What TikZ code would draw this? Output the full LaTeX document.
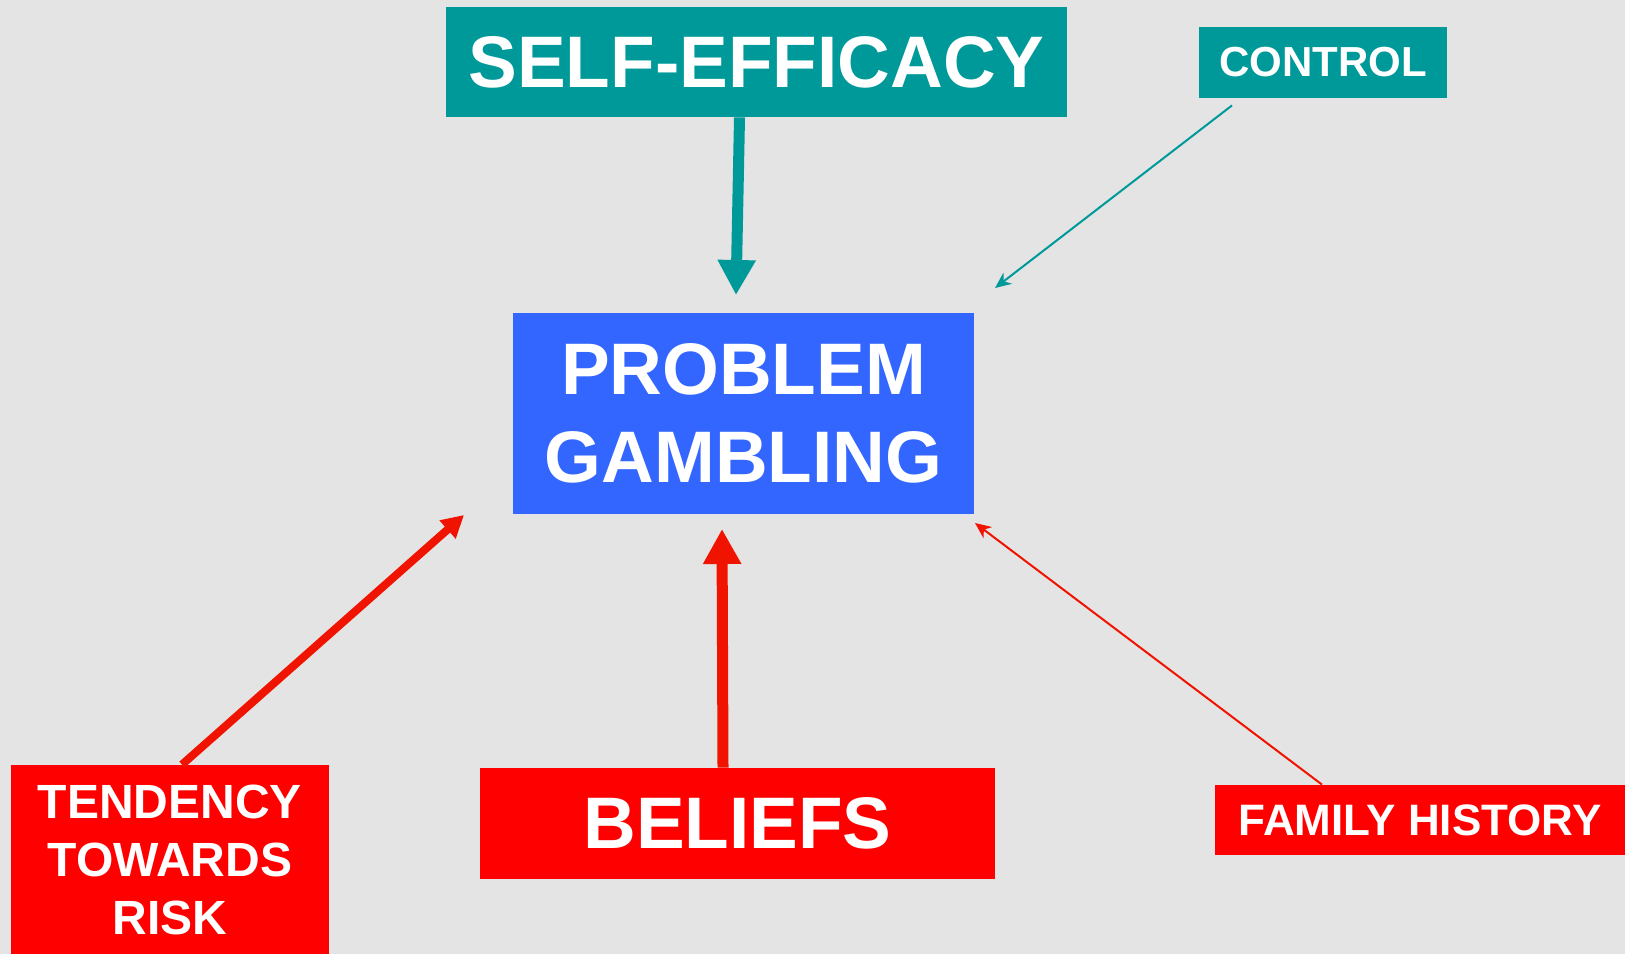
\documentclass[tikz,border=0pt]{standalone}
\usepackage{fontspec}
\setsansfont{Liberation Sans}
\usetikzlibrary{arrows.meta}

\definecolor{bgGrey}{RGB}{228,228,228}
\definecolor{effTeal}{RGB}{0,153,153}
\definecolor{gambBlue}{RGB}{51,102,255}
\definecolor{riskRed}{RGB}{255,0,0}
\definecolor{arrRed}{RGB}{240,20,0}

\begin{document}
\begin{tikzpicture}[x=0.5pt,y=0.5pt,yscale=-1,xscale=1,
    box/.style={inner sep=0pt,text=white,font=\sffamily\bfseries,align=center},
    tealbox/.style={box,fill=effTeal},
    bluebox/.style={box,fill=gambBlue},
    redbox/.style={box,fill=riskRed},
    bigarrow/.style={line width=5.5pt,-{Triangle[length=17.5pt,width=18pt]}},
    midarrow/.style={line width=4pt,-{Triangle[length=11pt,width=11.5pt]}},
    thinarrow/.style={line width=1pt,-{Stealth[length=8pt,width=7pt,inset=2.5pt]}}]
            \fill [bgGrey] (0,0) rectangle (1625,954) ;
            \useasboundingbox (0,0) rectangle (1625,954) ;
            % boxes
            \node [tealbox,minimum width=310.5pt,minimum height=55pt,font=\sffamily\bfseries\fontsize{36.5pt}{44pt}\selectfont] (self) at (756.5,62) {SELF-EFFICACY};
            \node [tealbox,minimum width=124pt,minimum height=35.5pt,font=\sffamily\bfseries\fontsize{21pt}{25pt}\selectfont] (ctrl) at (1323,62.5) {CONTROL};
            \node [bluebox,minimum width=230.5pt,minimum height=100.5pt,font=\sffamily\bfseries\fontsize{36.5pt}{44pt}\selectfont] (gamb) at (743.5,413.5) {PROBLEM\\GAMBLING};
            \node [redbox,minimum width=257.5pt,minimum height=55.5pt,font=\sffamily\bfseries\fontsize{36.5pt}{44pt}\selectfont] (belief) at (737.5,823.5) {BELIEFS};
            \node [redbox,minimum width=159pt,minimum height=94.5pt,font=\sffamily\bfseries\fontsize{24pt}{29pt}\selectfont] (tend) at (170,859.5) {TENDENCY\\TOWARDS\\RISK};
            \node [redbox,minimum width=205pt,minimum height=35pt,font=\sffamily\bfseries\fontsize{22pt}{26pt}\selectfont] (fam) at (1420,820) {FAMILY HISTORY};
            % arrow tips near the centre box
            \coordinate (selfTip) at (736,295) ;
            \coordinate (ctrlTip) at (995,288) ;
            \coordinate (tendTip) at (464,515) ;
            \coordinate (beliefTip) at (722,529) ;
            \coordinate (famTip) at (975,523) ;
            % arrows
            \draw [bigarrow,effTeal] ([xshift=-8.5pt]self.south) -- (selfTip) ;
            \draw [thinarrow,effTeal] ([shift={(-45.5pt,3.5pt)}]ctrl.south) -- (ctrlTip) ;
            \draw [midarrow,arrRed] ([xshift=6pt]tend.north) -- (tendTip) ;
            \draw [bigarrow,arrRed] ([xshift=-7.25pt]belief.north) -- (beliefTip) ;
            \draw [thinarrow,arrRed] ([xshift=-49pt]fam.north) -- (famTip) ;
        \end{tikzpicture}
\end{document}
